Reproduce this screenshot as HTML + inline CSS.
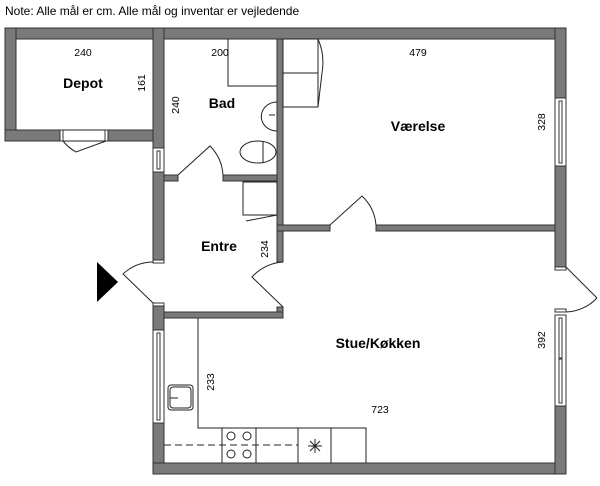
<!DOCTYPE html>
<html><head><meta charset="utf-8"><style>
body{margin:0;background:#fff;width:600px;height:481px;overflow:hidden}
text{font-family:"Liberation Sans",sans-serif;fill:#000}
.b{font-weight:bold;font-size:14px}
.s{font-size:10.5px}
</style></head><body>
<svg width="600" height="481" viewBox="0 0 600 481" xmlns="http://www.w3.org/2000/svg">
<text x="5" y="15" style="font-size:12px">Note: Alle mål er cm. Alle mål og inventar er vejledende</text>
<g fill="#7a7a7a" stroke="#333" stroke-width="1">
<rect x="5" y="28" width="561" height="11"/>
<rect x="5" y="28" width="11" height="113"/>
<rect x="5" y="130" width="55" height="11"/>
<rect x="108" y="130" width="56" height="11"/>
<rect x="153" y="28" width="11" height="120"/>
<rect x="153" y="172" width="11" height="88"/>
<rect x="153" y="306" width="11" height="24"/>
<rect x="153" y="423" width="11" height="51"/>
<rect x="153" y="463" width="413" height="11"/>
<rect x="555" y="28" width="11" height="70"/>
<rect x="555" y="166" width="11" height="101"/>
<rect x="555" y="406" width="11" height="68"/>
<rect x="277" y="39" width="6" height="192"/>
<rect x="164" y="175" width="14" height="6"/>
<rect x="223" y="175" width="54" height="6"/>
<rect x="277" y="225" width="53" height="6"/>
<rect x="376" y="225" width="179" height="6"/>
<rect x="277" y="231" width="6" height="31"/>
<rect x="277" y="307" width="6" height="11"/>
<rect x="164" y="312" width="119" height="6"/>
</g>
<g fill="#fff" stroke="#333" stroke-width="1">
<rect x="153" y="148" width="11" height="24"/><rect x="157" y="151" width="3" height="18"/>
<rect x="153" y="330" width="11" height="93"/><rect x="157" y="333" width="3" height="87"/>
<rect x="555" y="98" width="11" height="68"/><rect x="559" y="101" width="3" height="62"/>
<rect x="555" y="315" width="11" height="91"/><rect x="559" y="318" width="3" height="40"/><rect x="559" y="359" width="3" height="44"/>
<rect x="60" y="130" width="3" height="11"/><rect x="105" y="130" width="3" height="11"/>
<rect x="153" y="260" width="11" height="3"/><rect x="153" y="303" width="11" height="3"/>
<rect x="555" y="267" width="11" height="3"/><rect x="555" y="309" width="11" height="3"/>
</g>
<g fill="none" stroke="#222" stroke-width="1">
<line x1="63" y1="130" x2="105" y2="130"/><line x1="63" y1="141" x2="105" y2="141"/>
<path d="M63 141 A45 45 0 0 0 76 152 L106 141"/>
<path d="M178 175 L210 146 A45 45 0 0 1 223 175"/>
<path d="M330 225 L362 196 A45 45 0 0 1 376 225"/>
<path d="M153 303 L123 274 A45 45 0 0 1 153 262"/>
<path d="M283 307 L252 277 A45 45 0 0 1 283 262"/>
<path d="M566 267 L597 298"/>
<path d="M566 312 A45 45 0 0 0 597 298"/>
<polyline points="228,39 228,86 277,86"/>
<path d="M277 102 A13 12 0 1 0 277 131"/>
<line x1="269" y1="115" x2="275" y2="115"/>
<ellipse cx="258" cy="152" rx="18" ry="11"/>
<line x1="263" y1="141" x2="263" y2="163"/>
<rect x="243" y="182" width="34" height="33"/>
<line x1="246" y1="221" x2="277" y2="215"/>
<rect x="283" y="39" width="35" height="68"/><line x1="283" y1="73" x2="318" y2="73"/>
<path d="M318 39 Q325 55 322 73 L318 107"/>
<polyline points="198,318 198,428 366,428 366,463"/>
<line x1="222" y1="428" x2="222" y2="463"/><line x1="256" y1="428" x2="256" y2="463"/>
<line x1="298" y1="428" x2="298" y2="463"/><line x1="331" y1="428" x2="331" y2="463"/>
<line x1="164" y1="445" x2="298" y2="445" stroke-dasharray="7,4"/>
<circle cx="231" cy="436" r="4"/><circle cx="247" cy="436" r="4"/>
<circle cx="231" cy="454" r="4"/><circle cx="247" cy="454" r="4"/>
<path d="M308 446 L322 446 M315 439 L315 453 M310 441 L320 451 M320 441 L310 451"/>
<rect x="168" y="385" width="25" height="25" rx="3"/><rect x="170" y="387" width="21" height="21" rx="3"/>
<line x1="170" y1="398" x2="178" y2="398"/>
</g>
<polygon points="97,262 118,282 97,302" fill="#000"/>
<text class="b" x="83" y="88" text-anchor="middle">Depot</text>
<text class="s" x="83" y="56" text-anchor="middle">240</text>
<text class="b" x="222" y="108" text-anchor="middle">Bad</text>
<text class="s" x="220" y="56" text-anchor="middle">200</text>
<text class="s" x="418" y="56" text-anchor="middle">479</text>
<text class="b" x="418" y="131" text-anchor="middle">Værelse</text>
<text class="b" x="219" y="251" text-anchor="middle">Entre</text>
<text class="b" x="378" y="348" text-anchor="middle">Stue/Køkken</text>
<text class="s" x="380" y="413" text-anchor="middle">723</text>
<text class="s" transform="translate(145,83) rotate(-90)" text-anchor="middle">161</text>
<text class="s" transform="translate(179,105) rotate(-90)" text-anchor="middle">240</text>
<text class="s" transform="translate(545,122) rotate(-90)" text-anchor="middle">328</text>
<text class="s" transform="translate(268,249) rotate(-90)" text-anchor="middle">234</text>
<text class="s" transform="translate(545,340) rotate(-90)" text-anchor="middle">392</text>
<text class="s" transform="translate(214,382) rotate(-90)" text-anchor="middle">233</text>
</svg>
</body></html>
